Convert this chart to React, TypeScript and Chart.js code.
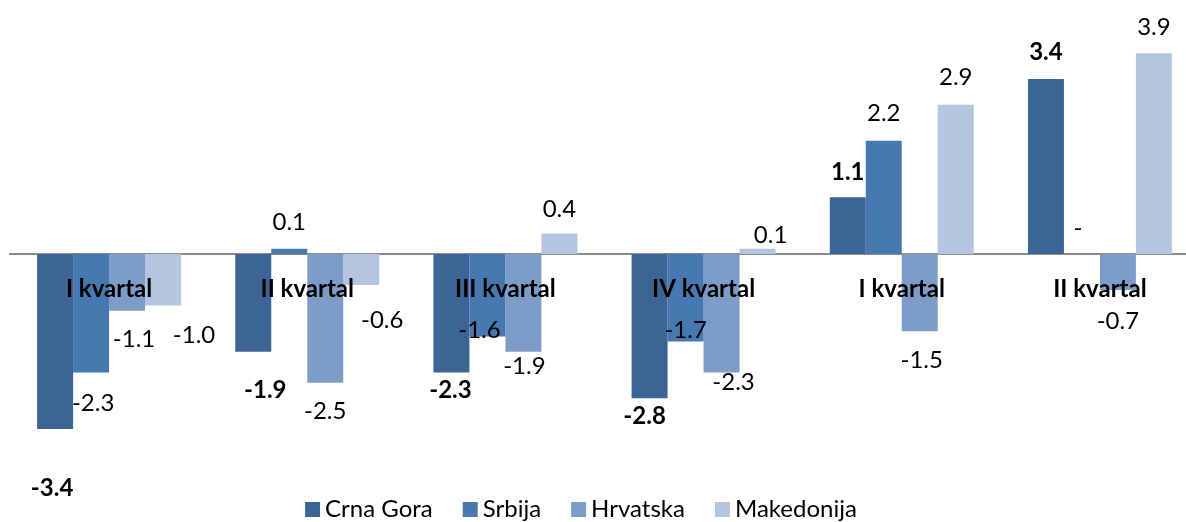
import React, { useEffect, useRef } from "react";
import { Chart, registerables } from "chart.js";

Chart.register(...registerables);

const categories = ["I kvartal", "II kvartal", "III kvartal", "IV kvartal", "I kvartal", "II kvartal"];
const seriesNames = ["Crna Gora", "Srbija", "Hrvatska", "Makedonija"];
const crnaGora = [-3.4, -1.9, -2.3, -2.8, 1.1, 3.4];
const srbija = [-2.3, 0.1, -1.6, -1.7, 2.2, 0];
const hrvatska = [-1.1, -2.5, -1.9, -2.3, -1.5, -0.7];
const makedonija = [-1.0, -0.6, 0.4, 0.1, 2.9, 3.9];
const seriesColors = ["#3C6494", "#4878B0", "#7E9CC8", "#B5C4DF"];
const boldSeries = [true, false, false, false];

// label nudges [dx, dy] in px from each bar's end (manual label placement of the original)
const labelNudges: number[][][] = [
  [[-3, 59], [12, 38], [-1, 18], [-5, 18], [0, -25], [0, -27]],
  [[2, 31], [0, -27], [-8, -6], [0, -11], [0, -27], [-4, -26]],
  [[7, 29], [0, 29], [1, 14], [12, 10], [2, 29], [0, 31]],
  [[31, 30], [21, 35], [0, -24], [13, -14], [0, -27], [0, -26]],
];

const FONT = "Lato";

const fmt = (v: number) => (v === 0 ? "-" : v.toFixed(1));

const dataLabelPlugin = {
  id: "dataLabels",
  afterDatasetsDraw(chart: any) {
    const ctx = chart.ctx;
    ctx.save();
    ctx.textAlign = "center";
    ctx.textBaseline = "middle";
    ctx.fillStyle = "#000";
    chart.data.datasets.forEach((ds: any, i: number) => {
      const meta = chart.getDatasetMeta(i);
      ctx.font = `${boldSeries[i] ? "bold " : ""}24px ${FONT}`;
      meta.data.forEach((bar: any, j: number) => {
        const v = ds.data[j];
        const [dx, dy] = labelNudges[i][j];
        ctx.fillText(fmt(v), bar.x + dx, bar.y + dy);
      });
    });
    ctx.restore();
  },
};

const legendPlugin = {
  id: "customLegend",
  afterDraw(chart: any) {
    const ctx = chart.ctx;
    ctx.save();
    ctx.font = `24px ${FONT}`;
    const box = 15;
    const gapBoxText = 5;
    const gapItems = 30;
    const widths = chart.data.datasets.map((d: any) => ctx.measureText(d.label).width);
    const total = widths.reduce((a: number, w: number) => a + box + gapBoxText + w, 0) + gapItems * (widths.length - 1);
    let x = 581 - total / 2;
    const baseY = 517;
    ctx.textBaseline = "alphabetic";
    ctx.textAlign = "left";
    chart.data.datasets.forEach((d: any, i: number) => {
      ctx.fillStyle = d.backgroundColor;
      ctx.fillRect(x, baseY - 15, box, box);
      x += box + gapBoxText;
      ctx.fillStyle = "#000";
      ctx.fillText(d.label, x, baseY);
      x += widths[i] + gapItems;
    });
    ctx.restore();
  },
};

export default function App() {
  const ref = useRef<HTMLCanvasElement | null>(null);
  useEffect(() => {
    if (!ref.current) return;
    const values = [crnaGora, srbija, hrvatska, makedonija];
    const chart = new Chart(ref.current, {
      type: "bar",
      data: {
        labels: categories,
        datasets: seriesNames.map((name, i) => ({
          label: name,
          data: values[i],
          backgroundColor: seriesColors[i],
          borderWidth: 0,
          categoryPercentage: 0.7265,
          barPercentage: 1,
        })),
      },
      options: {
        responsive: false,
        animation: false,
        layout: { padding: { top: 22.25, bottom: 62, left: 10, right: 1 } },
        plugins: { legend: { display: false }, tooltip: { enabled: false } },
        scales: {
          x: {
            position: { y: 0 } as any,
            grid: { display: false, drawTicks: false },
            border: { display: true, color: "#8c8c8c", width: 2 },
            ticks: {
              z: 1,
              font: { family: FONT, size: 24, weight: "bold" },
              color: "#000",
              padding: 21,
              autoSkip: false,
              maxRotation: 0,
            },
          },
          y: { display: false, min: -4, max: 4.5 },
        },
      },
      plugins: [dataLabelPlugin, legendPlugin],
    });
    return () => chart.destroy();
  }, []);
  return (
    <div style={{ position: "absolute", left: 0, top: 0, width: 1186, height: 522, overflow: "hidden", background: "#fff" }}>
      <canvas ref={ref} width={1200} height={522} style={{ display: "block" }} />
    </div>
  );
}
